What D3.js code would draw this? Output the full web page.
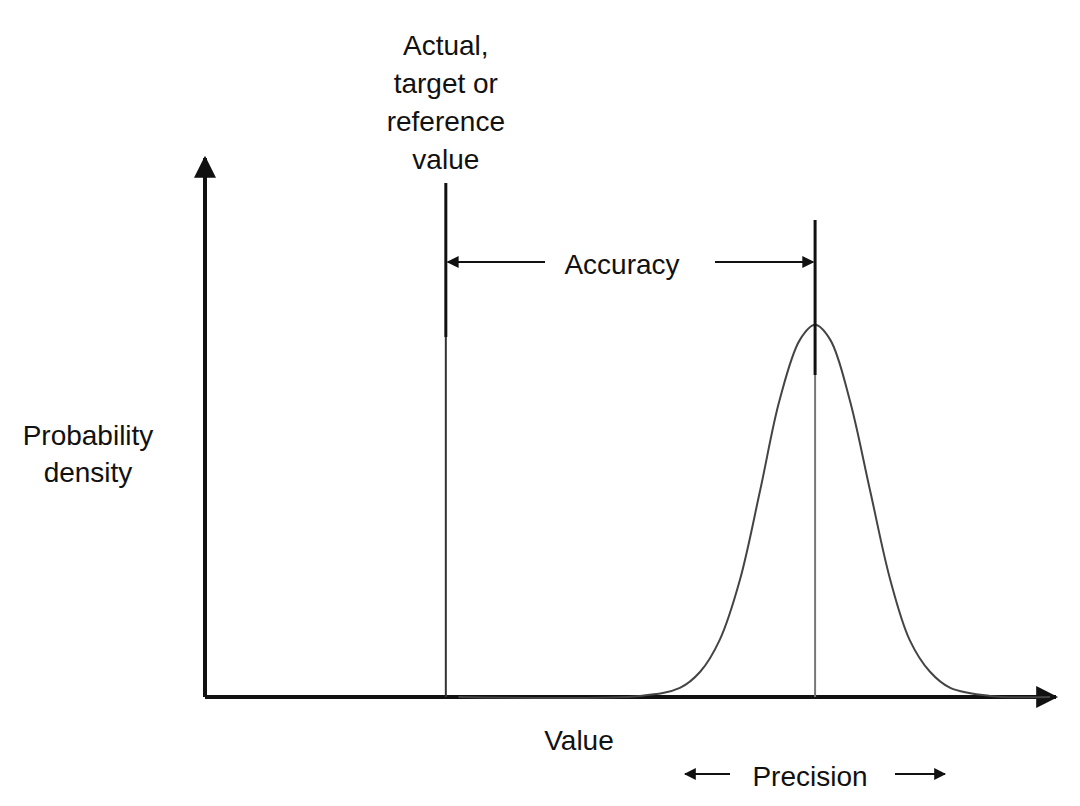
<!DOCTYPE html>
<html><head><meta charset="utf-8">
<script src="https://cdn.jsdelivr.net/npm/d3@7"></script>
<style>body{margin:0;background:#fff}text{font-family:"Liberation Sans",Arial,sans-serif;fill:#111}</style>
</head><body><div id="chart"></div>
<script>
// curve (value, density)
var curveX = [30, 51.5, 56.2, 58.6, 60.9, 63.3, 65.7, 68.0, 70.4, 72.2, 74.0, 76.3, 78.7, 81.1, 83.4, 85.8, 88.2, 92.9, 100];
var curveY = [0, 0.002, 0.017, 0.047, 0.106, 0.218, 0.385, 0.553, 0.665, 0.693, 0.665, 0.553, 0.385, 0.218, 0.106, 0.047, 0.017, 0.002, 0];
var refValue = 28.5, meanValue = 72.2;
var refLabel = ["Actual,", "target or", "reference", "value"];
var yLabel = ["Probability", "density"];

var width = 1080, height = 806;
var svg = d3.select("#chart").append("svg").attr("width", width).attr("height", height);

var x = d3.scaleLinear().domain([0, 100]).range([205, 1050]);
var y = d3.scaleLinear().domain([0, 1]).range([697, 160]);

var defs = svg.append("defs");
defs.append("marker").attr("id", "ah").attr("viewBox", "0 0 10 10").attr("refX", 9).attr("refY", 5)
    .attr("markerWidth", 12).attr("markerHeight", 12).attr("markerUnits", "userSpaceOnUse").attr("orient", "auto")
  .append("path").attr("d", "M0,0L10,5L0,10z").attr("fill", "#111");
defs.append("marker").attr("id", "big").attr("viewBox", "0 0 10 10").attr("refX", 9).attr("refY", 5)
    .attr("markerWidth", 22).attr("markerHeight", 22).attr("markerUnits", "userSpaceOnUse").attr("orient", "auto")
  .append("path").attr("d", "M0,0L10,5L0,10z").attr("fill", "#111");

// axes
svg.append("line").attr("x1", x(0)).attr("y1", y(0)).attr("x2", x(0)).attr("y2", 158)
    .attr("stroke", "#111").attr("stroke-width", 4).attr("marker-end", "url(#big)");
svg.append("line").attr("x1", x(0)).attr("y1", y(0)).attr("x2", 1056).attr("y2", y(0))
    .attr("stroke", "#111").attr("stroke-width", 4).attr("marker-end", "url(#big)");

// curve
var pts = curveX.map(function(d, i){ return [d, curveY[i]]; });
svg.append("path").datum(pts)
    .attr("d", d3.line().x(function(d){ return x(d[0]); }).y(function(d){ return y(d[1]); }).curve(d3.curveCatmullRom.alpha(0.5)))
    .attr("fill", "none").attr("stroke", "#444").attr("stroke-width", 2);

// reference line
svg.append("line").attr("x1", x(refValue)).attr("x2", x(refValue)).attr("y1", y(0)).attr("y2", 337).attr("stroke", "#333").attr("stroke-width", 2);
svg.append("line").attr("x1", x(refValue)).attr("x2", x(refValue)).attr("y1", 337).attr("y2", 183).attr("stroke", "#111").attr("stroke-width", 3);
// mean line
svg.append("line").attr("x1", x(meanValue)).attr("x2", x(meanValue)).attr("y1", y(0)).attr("y2", 375).attr("stroke", "#777").attr("stroke-width", 2);
svg.append("line").attr("x1", x(meanValue)).attr("x2", x(meanValue)).attr("y1", 375).attr("y2", 220).attr("stroke", "#111").attr("stroke-width", 3);

function arrow(x1, x2, yy){
  svg.append("line").attr("x1", x1).attr("x2", x2).attr("y1", yy).attr("y2", yy)
     .attr("stroke", "#111").attr("stroke-width", 2).attr("marker-end", "url(#ah)");
}
arrow(545, x(refValue) + 2, 262);
arrow(715, x(meanValue) - 2, 262);
arrow(730, 685, 774);
arrow(895, 945, 774);

function label(lines, cx, y0, dy){
  lines.forEach(function(t, i){
    svg.append("text").attr("x", cx).attr("y", y0 + i * dy).attr("text-anchor", "middle").attr("font-size", 28).text(t);
  });
}
label(refLabel, x(refValue), 55, 38);
label(["Accuracy"], 622, 274, 0);
label(yLabel, 88, 445, 37);
label(["Value"], 579, 750, 0);
label(["Precision"], 810, 786, 0);
</script></body></html>
